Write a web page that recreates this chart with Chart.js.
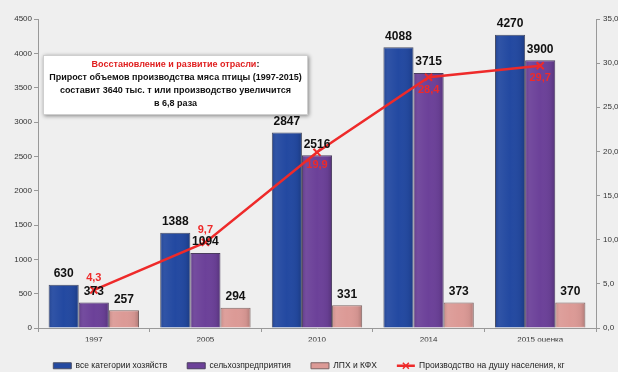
<!DOCTYPE html>
<html>
<head>
<meta charset="utf-8">
<script src="https://cdn.jsdelivr.net/npm/chart.js@4.4.1/dist/chart.umd.min.js"></script>
<style>
  body { margin: 0; background: #efefef; }
  #wrap { position: relative; width: 618px; height: 372px; overflow: hidden; }
  #note {
    position: absolute; left: 43px; top: 55px; width: 265px; height: 60px;
    background: #fff; border: 1px solid #cfcfcf;
    box-shadow: 1px 1px 4px rgba(0,0,0,0.45);
    font-family: "Liberation Sans", Arial, sans-serif; font-weight: bold;
    font-size: 9px; line-height: 13px; text-align: center; color: #111;
    box-sizing: border-box; padding-top: 2px;
  }
  #note .red { color: #e02020; }
</style>
</head>
<body>
<div id="wrap">
  <canvas id="chart" width="618" height="372"></canvas>
  <div id="note">
    <span class="red">Восстановление и развитие отрасли</span>:<br>
    Прирост объемов производства мяса птицы (1997-2015)<br>
    составит 3640 тыс. т или производство увеличится<br>
    в 6,8 раза
  </div>
</div>
<script>
// data
var years = ['1997', '2005', '2010', '2014', '2015 оценка'];
var allFarms = [630, 1388, 2847, 4088, 4270];
var agriEnterprises = [373, 1094, 2516, 3715, 3900];
var smallFarms = [257, 294, 331, 373, 370];
var perCapita = [4.3, 9.7, 19.9, 28.4, 29.7];

var axisFont = { size: 8, family: '"Liberation Sans", Arial, sans-serif' };
var lineRed = '#ee2a2a';

// background
var bgPlugin = {
  id: 'bg',
  beforeDraw: function(chart) {
    var c = chart.ctx;
    c.save();
    c.fillStyle = '#efefef';
    c.fillRect(0, 0, chart.width, chart.height);
    c.restore();
  }
};

// a bit of shading on the bars so they look like the 3d columns
var shadePlugin = {
  id: 'shade',
  afterDatasetDraw: function(chart, args) {
    var ds = chart.data.datasets[args.index];
    if (ds.type !== 'bar') return;
    var c = chart.ctx;
    c.save();
    args.meta.data.forEach(function(el) {
      var x0 = el.x - el.width / 2, x1 = el.x + el.width / 2;
      var g = c.createLinearGradient(x0, 0, x1, 0);
      g.addColorStop(0, 'rgba(0,0,0,0.12)');
      g.addColorStop(0.15, 'rgba(255,255,255,0.06)');
      g.addColorStop(0.5, 'rgba(255,255,255,0.0)');
      g.addColorStop(0.85, 'rgba(0,0,0,0.05)');
      g.addColorStop(1, 'rgba(0,0,0,0.2)');
      c.fillStyle = g;
      c.fillRect(x0 + 1, el.y + 1, el.width - 2, el.base - el.y - 2);
    });
    c.restore();
  }
};

// numbers over the bars and near the line points
var valuesPlugin = {
  id: 'values',
  afterDatasetsDraw: function(chart) {
    var c = chart.ctx;
    c.save();
    c.textAlign = 'center';
    chart.data.datasets.forEach(function(ds, i) {
      var meta = chart.getDatasetMeta(i);
      meta.data.forEach(function(el, j) {
        if (ds.type === 'line') {
          c.font = 'bold 11px "Liberation Sans", Arial, sans-serif';
          c.fillStyle = lineRed;
          var txt = String(ds.data[j]).replace('.', ',');
          if (j < 2) {
            c.textBaseline = 'bottom';
            c.fillText(txt, el.x, el.y - 7);
          } else {
            c.textBaseline = 'top';
            c.fillText(txt, el.x, el.y + 7);
          }
        } else {
          c.font = 'bold 12px "Liberation Sans", Arial, sans-serif';
          c.fillStyle = '#111';
          c.textBaseline = 'bottom';
          c.fillText(ds.data[j], el.x, el.y - 5);
        }
      });
    });
    c.restore();
  }
};

// legend sample for the line: a red stroke with a cross instead of a box
var lineLegendPlugin = {
  id: 'lineLegend',
  afterDraw: function(chart) {
    var lg = chart.legend;
    if (!lg || !lg.legendItems) return;
    var c = chart.ctx;
    lg.legendItems.forEach(function(item, k) {
      if (chart.data.datasets[item.datasetIndex].type !== 'line') return;
      var hb = lg.legendHitBoxes[k];
      var cy = hb.top + hb.height / 2;
      var x0 = hb.left, x1 = hb.left + 18, cx = (x0 + x1) / 2;
      c.save();
      c.strokeStyle = lineRed;
      c.lineWidth = 2.5;
      c.beginPath(); c.moveTo(x0, cy); c.lineTo(x1, cy); c.stroke();
      c.lineWidth = 1.5;
      c.beginPath();
      c.moveTo(cx - 3, cy - 3); c.lineTo(cx + 3, cy + 3);
      c.moveTo(cx + 3, cy - 3); c.lineTo(cx - 3, cy + 3);
      c.stroke();
      c.restore();
    });
  }
};

var ctx = document.getElementById('chart').getContext('2d');
var chart = new Chart(ctx, {
  data: {
    labels: years,
    datasets: [{
      type: 'bar',
      label: 'все категории хозяйств',
      data: allFarms,
      backgroundColor: '#2349a1',
      borderColor: '#4a4f66',
      borderWidth: 1,
      yAxisID: 'y',
      order: 1
    }, {
      type: 'bar',
      label: 'сельхозпредприятия',
      data: agriEnterprises,
      backgroundColor: '#6c4199',
      borderColor: '#4a3d5e',
      borderWidth: 1,
      yAxisID: 'y',
      order: 2
    }, {
      type: 'bar',
      label: 'ЛПХ и КФХ',
      data: smallFarms,
      backgroundColor: '#dc9a96',
      borderColor: '#7d6564',
      borderWidth: 1,
      yAxisID: 'y',
      order: 3
    }, {
      type: 'line',
      label: 'Производство на душу населения, кг',
      data: perCapita,
      borderColor: lineRed,
      backgroundColor: lineRed,
      borderWidth: 2.5,
      pointStyle: 'crossRot',
      pointRadius: 5,
      pointBorderWidth: 2,
      tension: 0,
      yAxisID: 'y1',
      order: 0
    }]
  },
  options: {
    responsive: false,
    animation: false,
    layout: { padding: { top: 19, bottom: -8, left: 0, right: 0 } },
    datasets: {
      bar: { categoryPercentage: 0.81, barPercentage: 1 }
    },
    plugins: {
      tooltip: { enabled: false },
      legend: {
        position: 'bottom',
        labels: {
          boxWidth: 18,
          boxHeight: 6,
          padding: 20,
          color: '#222',
          font: { size: 8.5, family: '"Liberation Sans", Arial, sans-serif' },
          sort: function(a, b) { return a.datasetIndex - b.datasetIndex; },
          generateLabels: function(chart) {
            var items = Chart.defaults.plugins.legend.labels.generateLabels(chart);
            items.forEach(function(it) {
              if (chart.data.datasets[it.datasetIndex].type === 'line') {
                it.fillStyle = 'rgba(0,0,0,0)';
                it.strokeStyle = 'rgba(0,0,0,0)';
              }
            });
            return items;
          }
        }
      }
    },
    scales: {
      x: {
        grid: { drawOnChartArea: false, drawTicks: true, tickLength: 4, color: '#999' },
        border: { color: '#999' },
        ticks: { color: '#333', padding: 3, font: axisFont },
        afterFit: function(scale) { scale.height = 13.5; }
      },
      y: {
        position: 'left',
        min: 0, max: 4500,
        grid: { drawOnChartArea: false, tickLength: 4, color: '#999' },
        border: { color: '#999' },
        ticks: {
          stepSize: 500, color: '#333', padding: 2, font: axisFont,
          callback: function(v) { return String(v); }
        },
        afterFit: function(scale) { scale.width = 38; }
      },
      y1: {
        position: 'right',
        min: 0, max: 35,
        grid: { drawOnChartArea: false, tickLength: 4, color: '#999' },
        border: { color: '#999' },
        ticks: {
          stepSize: 5, color: '#333', padding: 3, font: axisFont,
          callback: function(v) { return v.toFixed(1).replace('.', ','); }
        },
        afterFit: function(scale) { scale.width = 22; }
      }
    }
  },
  plugins: [bgPlugin, shadePlugin, valuesPlugin, lineLegendPlugin]
});
</script>
</body>
</html>
